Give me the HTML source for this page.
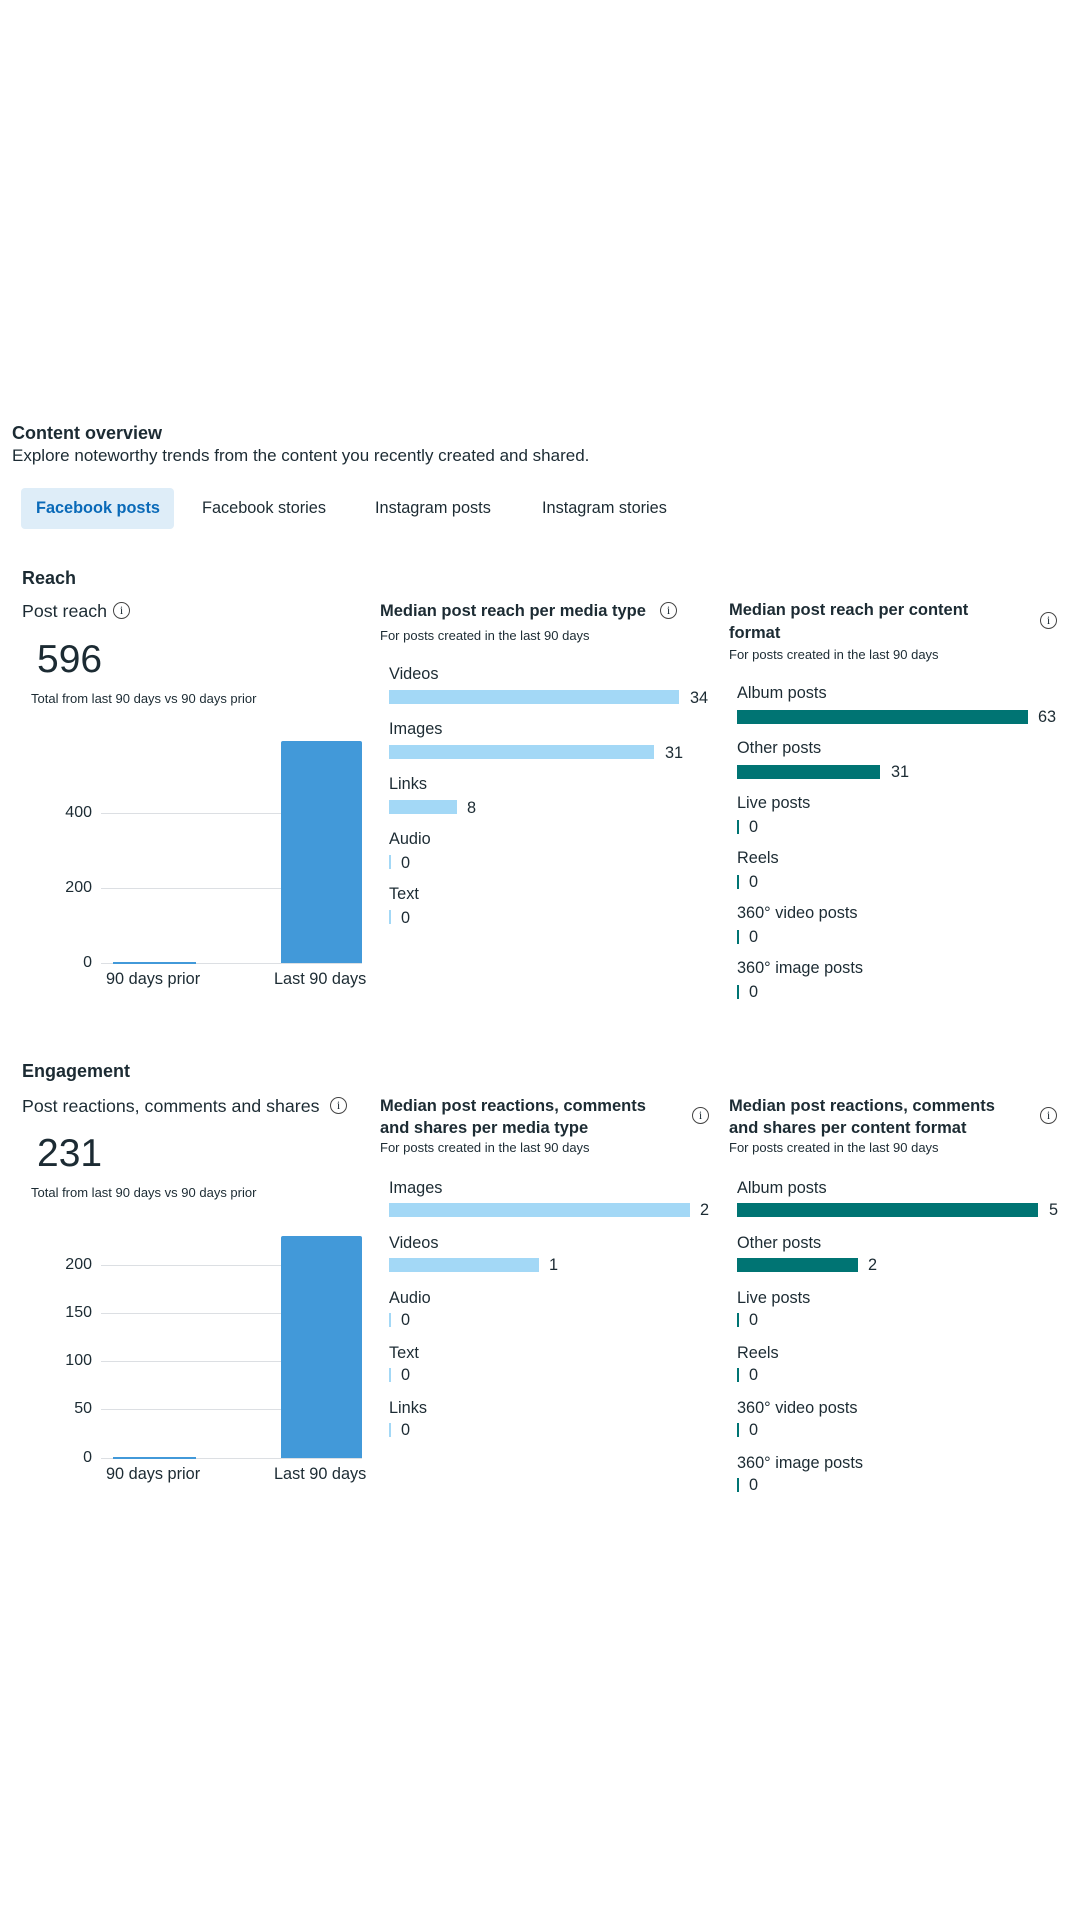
<!DOCTYPE html>
<html><head><meta charset="utf-8"><style>
body{margin:0;width:1080px;height:1920px;background:#fff;position:relative;font-family:"Liberation Sans",sans-serif;color:#1c2b33;overflow:hidden}
.t{position:absolute;line-height:20px;white-space:nowrap}
.h{font-weight:bold;font-size:18px}
.lb{font-size:16.3px}
.sm{font-size:13px}
.ti{font-size:16.5px;font-weight:600}
.b{position:absolute;height:14px}
.lt{background:#a3d8f6}
.tl{background:#007473}
.z{position:absolute;width:2px;height:14px}
.g{position:absolute;height:1px;background:#dcdfe3;left:101px;width:180px}
.yl{position:absolute;font-size:16px;line-height:20px;width:40px;text-align:right;left:52px}
.i{position:absolute;width:15px;height:15px;border:1.3px solid #444;border-radius:50%;font-size:12px;line-height:15px;text-align:center;font-family:"Liberation Serif",serif}
</style></head><body>
<div class="t h" style="left:12px;top:423px">Content overview</div>
<div class="t" style="left:12px;top:446px;font-size:17px">Explore noteworthy trends from the content you recently created and shared.</div>
<div style="position:absolute;left:21px;top:488px;width:153px;height:41px;background:#deedf8;border-radius:4px"></div>
<div class="t lb" style="left:36px;top:498px;color:#0a6ab8;font-weight:bold">Facebook posts</div>
<div class="t lb" style="left:202px;top:498px">Facebook stories</div>
<div class="t lb" style="left:375px;top:498px">Instagram posts</div>
<div class="t lb" style="left:542px;top:498px">Instagram stories</div>

<div class="t h" style="left:22px;top:568px">Reach</div>
<div class="t" style="left:22px;top:601px;font-size:17.8px">Post reach</div><div class="i" style="left:113px;top:602px">i</div>
<div class="t" style="left:37px;top:640px;font-size:39px;line-height:40px">596</div>
<div class="t sm" style="left:31px;top:689px">Total from last 90 days vs 90 days prior</div>
<div class="g" style="top:813px"></div><div class="g" style="top:888px"></div><div class="g" style="top:963px;width:261px"></div>
<div class="yl" style="top:803px">400</div><div class="yl" style="top:878px">200</div><div class="yl" style="top:953px">0</div>
<div style="position:absolute;left:113px;top:962px;width:83px;height:2px;background:#4299d9"></div>
<div style="position:absolute;left:281px;top:741px;width:81px;height:222px;background:#4299d9;border-radius:2px 2px 0 0"></div>
<div class="t lb" style="left:106px;top:969px">90 days prior</div>
<div class="t lb" style="left:274px;top:969px">Last 90 days</div>

<div class="t ti" style="left:380px;top:601px">Median post reach per media type</div><div class="i" style="left:660px;top:602px">i</div>
<div class="t sm" style="left:380px;top:626px">For posts created in the last 90 days</div>
<div class="t lb" style="left:389px;top:664px">Videos</div><div class="b lt" style="left:389px;top:690px;width:290px"></div><div class="t lb" style="left:690px;top:688px">34</div>
<div class="t lb" style="left:389px;top:719px">Images</div><div class="b lt" style="left:389px;top:745px;width:265px"></div><div class="t lb" style="left:665px;top:743px">31</div>
<div class="t lb" style="left:389px;top:774px">Links</div><div class="b lt" style="left:389px;top:800px;width:68px"></div><div class="t lb" style="left:467px;top:798px">8</div>
<div class="t lb" style="left:389px;top:829px">Audio</div><div class="z lt" style="left:389px;top:855px"></div><div class="t lb" style="left:401px;top:853px">0</div>
<div class="t lb" style="left:389px;top:884px">Text</div><div class="z lt" style="left:389px;top:910px"></div><div class="t lb" style="left:401px;top:908px">0</div>

<div class="t ti" style="left:729px;top:600px">Median post reach per content</div>
<div class="t ti" style="left:729px;top:623px">format</div><div class="i" style="left:1040px;top:612px">i</div>
<div class="t sm" style="left:729px;top:645px">For posts created in the last 90 days</div>
<div class="t lb" style="left:737px;top:683px">Album posts</div><div class="b tl" style="left:737px;top:710px;width:291px"></div><div class="t lb" style="left:1038px;top:707px">63</div>
<div class="t lb" style="left:737px;top:738px">Other posts</div><div class="b tl" style="left:737px;top:765px;width:143px"></div><div class="t lb" style="left:891px;top:762px">31</div>
<div class="t lb" style="left:737px;top:793px">Live posts</div><div class="z tl" style="left:737px;top:820px"></div><div class="t lb" style="left:749px;top:817px">0</div>
<div class="t lb" style="left:737px;top:848px">Reels</div><div class="z tl" style="left:737px;top:875px"></div><div class="t lb" style="left:749px;top:872px">0</div>
<div class="t lb" style="left:737px;top:903px">360° video posts</div><div class="z tl" style="left:737px;top:930px"></div><div class="t lb" style="left:749px;top:927px">0</div>
<div class="t lb" style="left:737px;top:958px">360° image posts</div><div class="z tl" style="left:737px;top:985px"></div><div class="t lb" style="left:749px;top:982px">0</div>

<div class="t h" style="left:22px;top:1061px">Engagement</div>
<div class="t" style="left:22px;top:1096px;font-size:17.8px">Post reactions, comments and shares</div><div class="i" style="left:330px;top:1097px">i</div>
<div class="t" style="left:37px;top:1134px;font-size:39px;line-height:40px">231</div>
<div class="t sm" style="left:31px;top:1183px">Total from last 90 days vs 90 days prior</div>
<div class="g" style="top:1265px"></div><div class="g" style="top:1313px"></div><div class="g" style="top:1361px"></div><div class="g" style="top:1409px"></div><div class="g" style="top:1458px;width:261px"></div>
<div class="yl" style="top:1255px">200</div><div class="yl" style="top:1303px">150</div><div class="yl" style="top:1351px">100</div><div class="yl" style="top:1399px">50</div><div class="yl" style="top:1448px">0</div>
<div style="position:absolute;left:113px;top:1457px;width:83px;height:2px;background:#4299d9"></div>
<div style="position:absolute;left:281px;top:1236px;width:81px;height:222px;background:#4299d9;border-radius:2px 2px 0 0"></div>
<div class="t lb" style="left:106px;top:1464px">90 days prior</div>
<div class="t lb" style="left:274px;top:1464px">Last 90 days</div>

<div class="t ti" style="left:380px;top:1096px">Median post reactions, comments</div>
<div class="t ti" style="left:380px;top:1118px">and shares per media type</div><div class="i" style="left:692px;top:1107px">i</div>
<div class="t sm" style="left:380px;top:1138px">For posts created in the last 90 days</div>
<div class="t lb" style="left:389px;top:1178px">Images</div><div class="b lt" style="left:389px;top:1203px;width:301px"></div><div class="t lb" style="left:700px;top:1200px">2</div>
<div class="t lb" style="left:389px;top:1233px">Videos</div><div class="b lt" style="left:389px;top:1258px;width:150px"></div><div class="t lb" style="left:549px;top:1255px">1</div>
<div class="t lb" style="left:389px;top:1288px">Audio</div><div class="z lt" style="left:389px;top:1313px"></div><div class="t lb" style="left:401px;top:1310px">0</div>
<div class="t lb" style="left:389px;top:1343px">Text</div><div class="z lt" style="left:389px;top:1368px"></div><div class="t lb" style="left:401px;top:1365px">0</div>
<div class="t lb" style="left:389px;top:1398px">Links</div><div class="z lt" style="left:389px;top:1423px"></div><div class="t lb" style="left:401px;top:1420px">0</div>

<div class="t ti" style="left:729px;top:1096px">Median post reactions, comments</div>
<div class="t ti" style="left:729px;top:1118px">and shares per content format</div><div class="i" style="left:1040px;top:1107px">i</div>
<div class="t sm" style="left:729px;top:1138px">For posts created in the last 90 days</div>
<div class="t lb" style="left:737px;top:1178px">Album posts</div><div class="b tl" style="left:737px;top:1203px;width:301px"></div><div class="t lb" style="left:1049px;top:1200px">5</div>
<div class="t lb" style="left:737px;top:1233px">Other posts</div><div class="b tl" style="left:737px;top:1258px;width:121px"></div><div class="t lb" style="left:868px;top:1255px">2</div>
<div class="t lb" style="left:737px;top:1288px">Live posts</div><div class="z tl" style="left:737px;top:1313px"></div><div class="t lb" style="left:749px;top:1310px">0</div>
<div class="t lb" style="left:737px;top:1343px">Reels</div><div class="z tl" style="left:737px;top:1368px"></div><div class="t lb" style="left:749px;top:1365px">0</div>
<div class="t lb" style="left:737px;top:1398px">360° video posts</div><div class="z tl" style="left:737px;top:1423px"></div><div class="t lb" style="left:749px;top:1420px">0</div>
<div class="t lb" style="left:737px;top:1453px">360° image posts</div><div class="z tl" style="left:737px;top:1478px"></div><div class="t lb" style="left:749px;top:1475px">0</div>
</body></html>
